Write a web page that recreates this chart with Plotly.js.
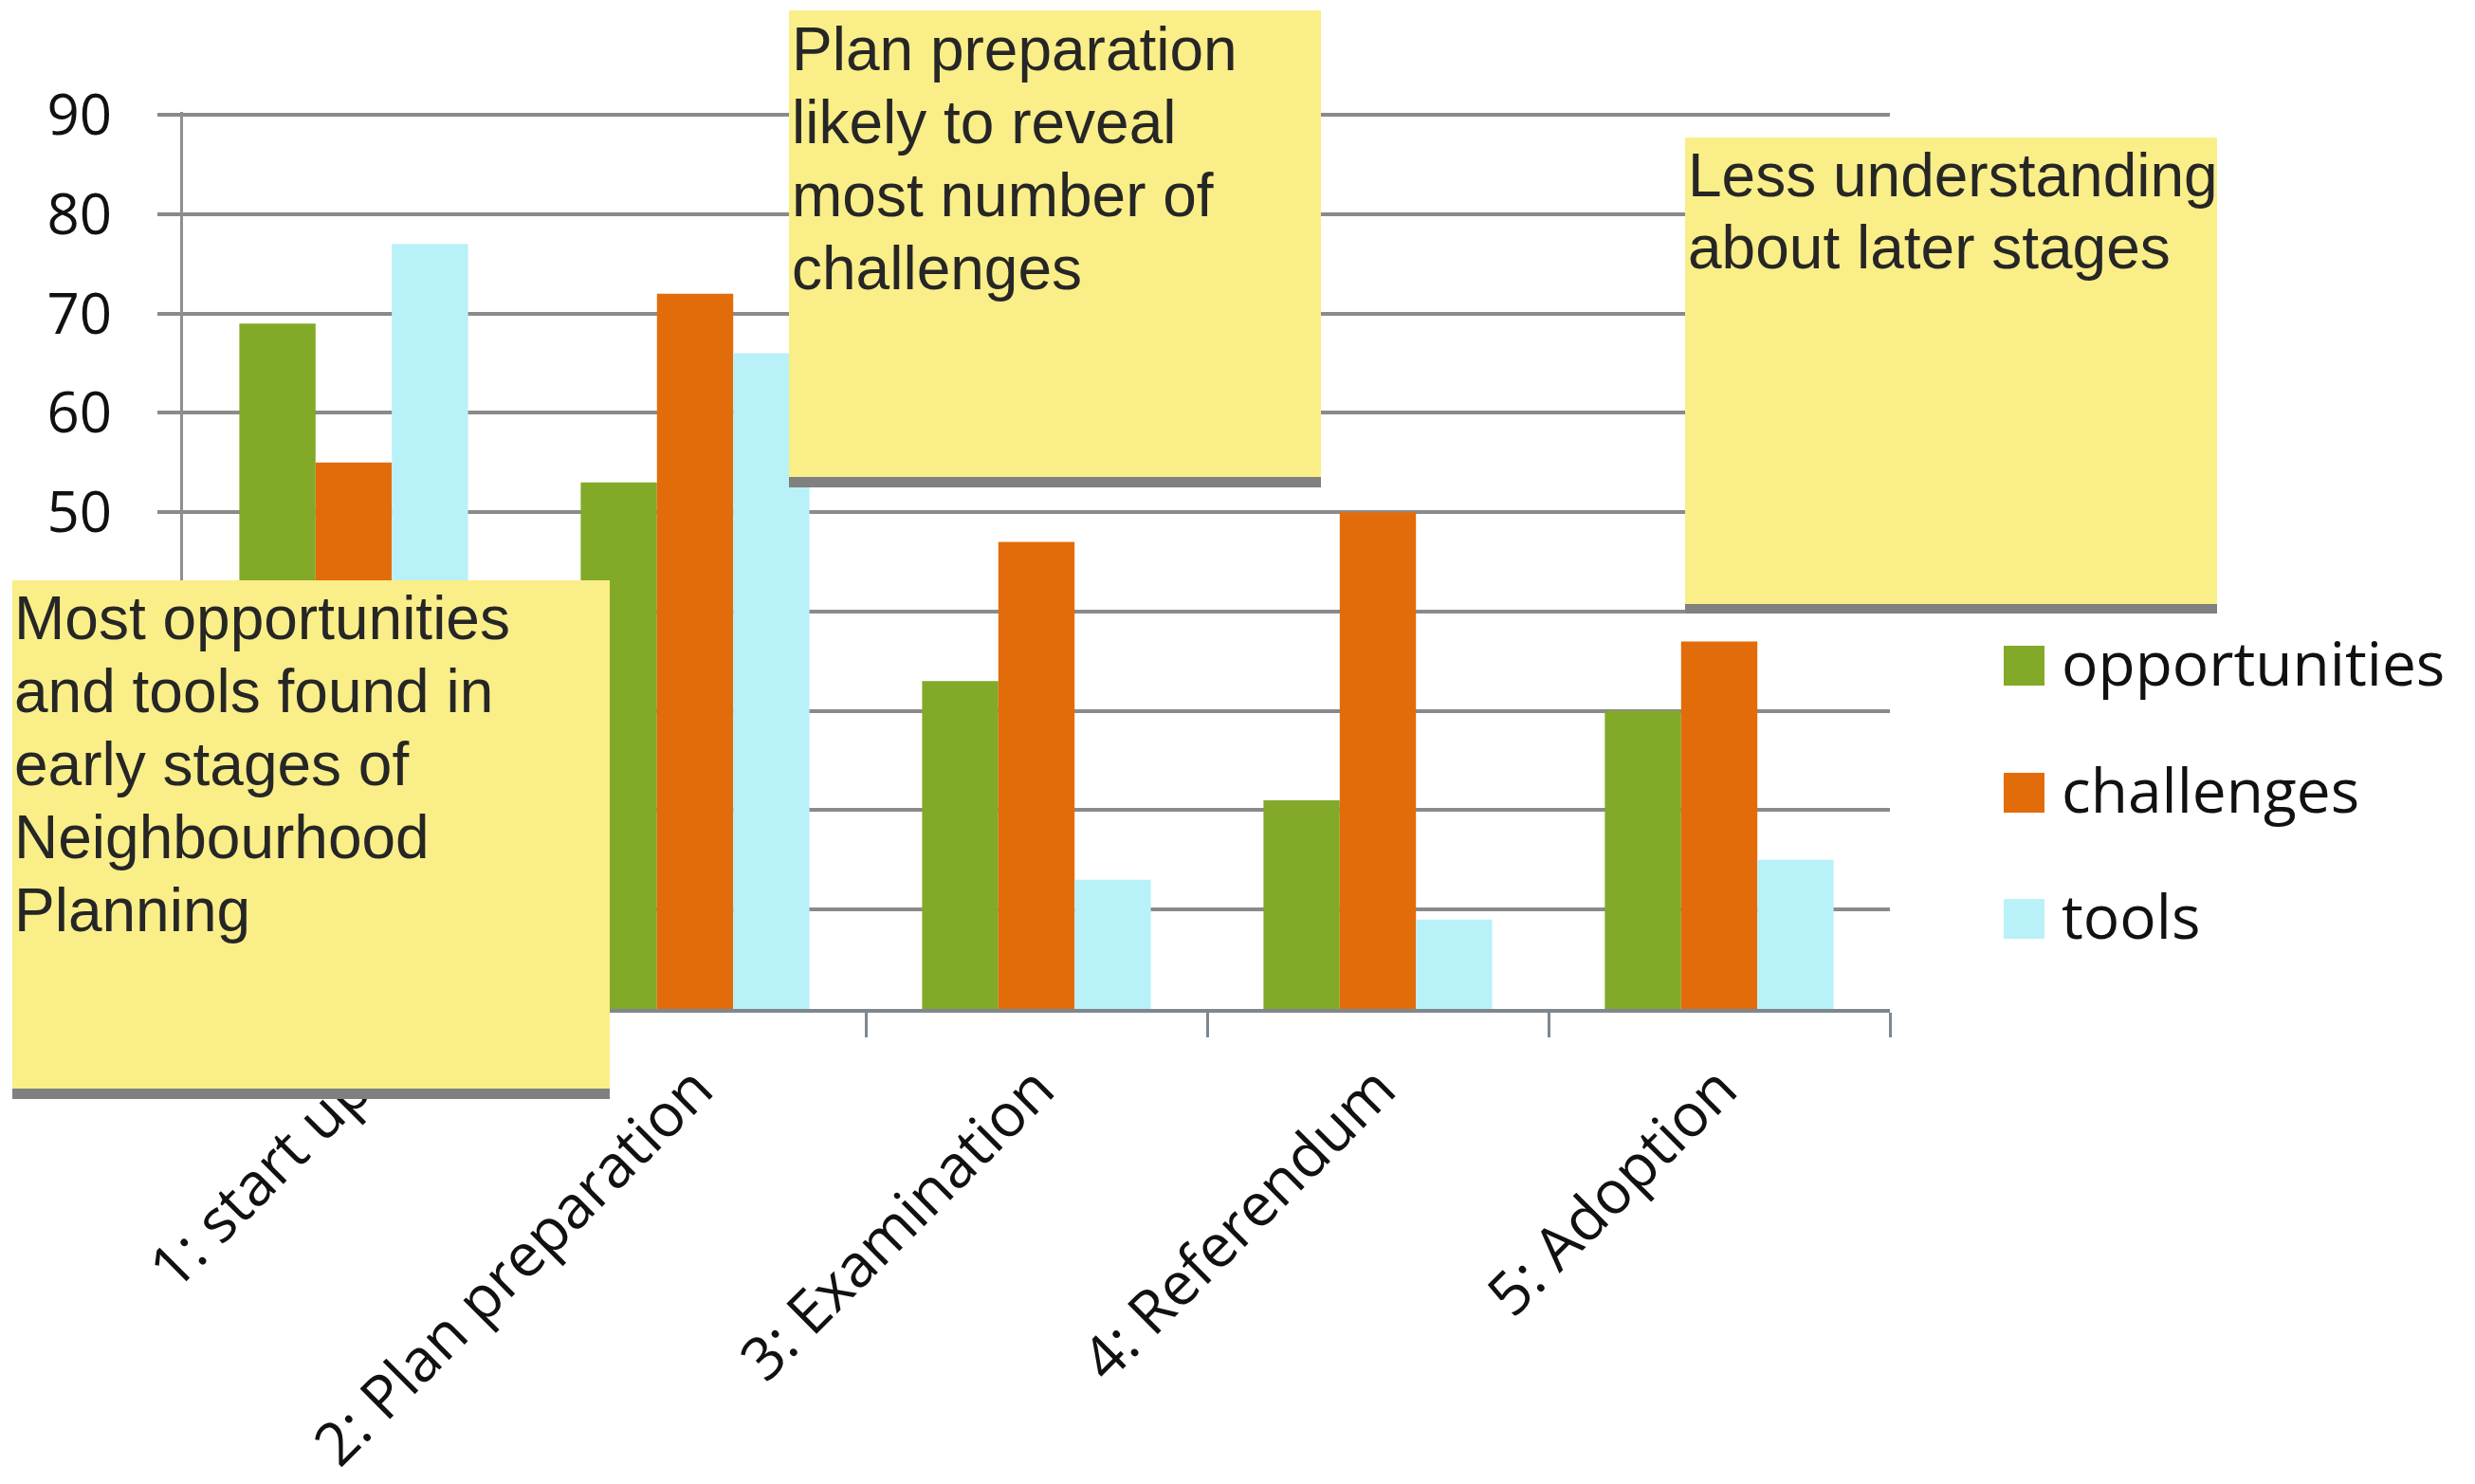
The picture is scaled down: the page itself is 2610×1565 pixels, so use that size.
<!DOCTYPE html>
<html>
<head>
<meta charset="utf-8">
<script src="https://cdn.plot.ly/plotly-3.0.1.min.js"></script>
<style>html,body{margin:0;padding:0;background:#fff;}#chart{width:2610px;height:1565px;}</style>
</head>
<body>
<div id="chart"></div>
<script>
// ---- data ----
const categories = ['1: start up', '2: Plan preparation', '3: Examination', '4: Referendum', '5: Adoption'];
const opportunities = [69, 53, 33, 21, 30];
const challenges = [55, 72, 47, 50, 37];
const tools = [77, 66, 13, 9, 15];
const seriesNames = ['opportunities', 'challenges', 'tools'];
const seriesColors = ['#83a928', '#e36c0a', '#b9f1f8'];
const yTicks = [0, 10, 20, 30, 40, 50, 60, 70, 80, 90];
// labels 0-40 are hidden behind the note box in the original
const yTickText = ['', '', '', '', '', '50', '60', '70', '80', '90'];
const noteTexts = [
  ['Plan preparation', 'likely to reveal', 'most number of', 'challenges'],
  ['Less understanding', 'about later stages'],
  ['Most opportunities', 'and tools found in', 'early stages of', 'Neighbourhood', 'Planning']
];

// ---- layout geometry (pixels) ----
const W = 2610, H = 1565;
const M = {l: 193, r: 617, t: 118, b: 501};
const pw = W - M.l - M.r, ph = H - M.t - M.b;
const px = p => (p - M.l) / pw;
const py = p => (H - M.b - p) / ph;

const noteBoxes = [
  {x0: 832, x1: 1393, y0: 11, y1: 503, sh: 11, tx: 833, base: 74, lh: 77},
  {x0: 1777, x1: 2338, y0: 145, y1: 637, sh: 10, tx: 1778, base: 207, lh: 76},
  {x0: 13, x1: 643, y0: 612, y1: 1148, sh: 11, tx: 13, base: 674, lh: 77}
];
const legendPos = {sx0: 2113, sx1: 2156, tx: 2172, bases: [723, 857, 990], size: 42};

const seriesValues = [opportunities, challenges, tools];
const traces = seriesNames.map((n, i) => ({
  type: 'bar', name: n, x: categories, y: seriesValues[i],
  marker: {color: seriesColors[i], line: {width: 0}},
  hoverinfo: 'x+y+name'
}));

const shapes = [];
const annotations = [];
const noteFont = {family: 'Liberation Sans, Arial, sans-serif', size: 64, color: '#262626'};
noteBoxes.forEach((b, i) => {
  shapes.push({type: 'rect', xref: 'paper', yref: 'paper', layer: 'above',
    x0: px(b.x0), x1: px(b.x1), y0: py(b.y1), y1: py(b.y1 + b.sh),
    fillcolor: '#808080', line: {width: 0}});
  shapes.push({type: 'rect', xref: 'paper', yref: 'paper', layer: 'above',
    x0: px(b.x0), x1: px(b.x1), y0: py(b.y0), y1: py(b.y1),
    fillcolor: '#faee88', line: {width: 0}});
  noteTexts[i].forEach((t, k) => {
    annotations.push({xref: 'paper', yref: 'paper', showarrow: false,
      x: px(b.tx), y: py(b.base + k * b.lh - 22), xanchor: 'left', yanchor: 'middle',
      text: t, font: noteFont, align: 'left'});
  });
});

// legend (large square swatches like the original)
seriesNames.forEach((n, i) => {
  const base = legendPos.bases[i];
  shapes.push({type: 'rect', xref: 'paper', yref: 'paper', layer: 'above',
    x0: px(legendPos.sx0), x1: px(legendPos.sx1), y0: py(base), y1: py(base - legendPos.size),
    fillcolor: seriesColors[i], line: {width: 0}});
  annotations.push({xref: 'paper', yref: 'paper', showarrow: false,
    x: px(legendPos.tx), y: py(base - 25), xanchor: 'left', yanchor: 'middle',
    text: n, font: {family: 'Open Sans, sans-serif', size: 64, color: '#111111'}});
});

const layout = {
  width: W, height: H,
  margin: M,
  paper_bgcolor: '#ffffff', plot_bgcolor: '#ffffff',
  showlegend: false,
  barmode: 'group', bargap: 0.33, bargroupgap: 0,
  font: {family: 'Open Sans, sans-serif', color: '#111111'},
  xaxis: {
    type: 'category', tickson: 'boundaries', ticks: 'outside', ticklen: 26, tickwidth: 3,
    tickcolor: '#7f878e', showline: true, linecolor: '#7f878e', linewidth: 4,
    showgrid: false, tickangle: -45, ticklabelstandoff: 18,
    tickfont: {family: 'Open Sans, sans-serif', size: 63, color: '#111111'}
  },
  yaxis: {
    range: [0, 90.3], tickvals: yTicks, ticktext: yTickText,
    showgrid: true, gridcolor: '#8a8a8a', gridwidth: 4, zeroline: false,
    ticks: 'outside', ticklen: 24, tickwidth: 4, tickcolor: '#8a8a8a',
    showline: true, linecolor: '#8f8f8f', linewidth: 3, ticklabelstandoff: 36,
    tickfont: {family: 'Open Sans, sans-serif', size: 60, color: '#111111'}
  },
  shapes: shapes,
  annotations: annotations
};

Plotly.newPlot('chart', traces, layout, {displayModeBar: false, staticPlot: true});
</script>
</body>
</html>
